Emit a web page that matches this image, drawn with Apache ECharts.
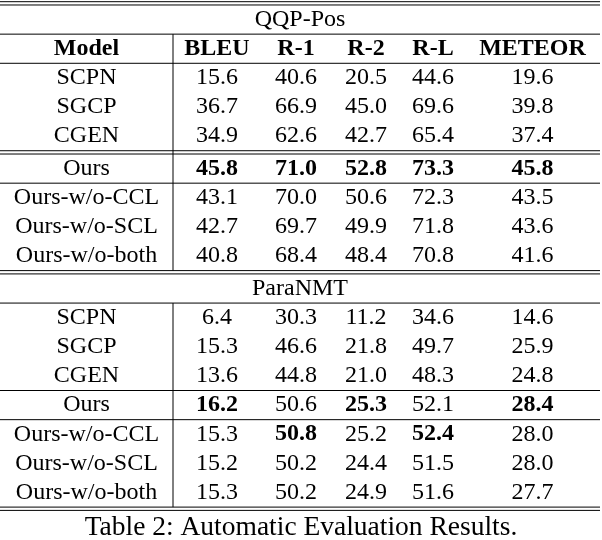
<!DOCTYPE html>
<html><head><meta charset="utf-8">
<script src="https://cdn.jsdelivr.net/npm/echarts@6/dist/echarts.min.js"></script>
<style>html,body{margin:0;padding:0;background:#fff}#c{width:602px;height:540px}</style>
</head><body><div id="c"></div>
<script>
// ---------------- data ----------------
const datasets = ['QQP-Pos', 'ParaNMT'];
const modelHeader = 'Model';
const models = ['SCPN', 'SGCP', 'CGEN', 'Ours', 'Ours-w/o-CCL', 'Ours-w/o-SCL', 'Ours-w/o-both'];
const metrics = ['BLEU', 'R-1', 'R-2', 'R-L', 'METEOR'];

const qqpBLEU   = [15.6, 36.7, 34.9, 45.8, 43.1, 42.7, 40.8];
const qqpR1     = [40.6, 66.9, 62.6, 71.0, 70.0, 69.7, 68.4];
const qqpR2     = [20.5, 45.0, 42.7, 52.8, 50.6, 49.9, 48.4];
const qqpRL     = [44.6, 69.6, 65.4, 73.3, 72.3, 71.8, 70.8];
const qqpMETEOR = [19.6, 39.8, 37.4, 45.8, 43.5, 43.6, 41.6];

const paraBLEU   = [6.4, 15.3, 13.6, 16.2, 15.3, 15.2, 15.3];
const paraR1     = [30.3, 46.6, 44.8, 50.6, 50.8, 50.2, 50.2];
const paraR2     = [11.2, 21.8, 21.0, 25.3, 25.2, 24.4, 24.9];
const paraRL     = [34.6, 49.7, 48.3, 52.1, 52.4, 51.5, 51.6];
const paraMETEOR = [14.6, 25.9, 24.8, 28.4, 28.0, 28.0, 27.7];

const caption = 'Table 2: Automatic Evaluation Results.';

// ---------------- layout / style ----------------
const FONT = '"Liberation Serif", "Times New Roman", serif';
const FS = 24;
const colWidths = [173, 88, 70, 70, 64, 135];
const GAP = 0.113;            // gap of a double rule, in row units
const nBase = 3;              // number of baseline rows

const bounds = [0];
colWidths.forEach(w => bounds.push(bounds[bounds.length - 1] + w));
const colCenter = i => (bounds[i] + bounds[i + 1]) / 2;
const tableW = bounds[bounds.length - 1];

const tables = [
  { name: datasets[0], header: true,  sep: 'double', cols: [qqpBLEU, qqpR1, qqpR2, qqpRL, qqpMETEOR] },
  { name: datasets[1], header: false, sep: 'single', cols: [paraBLEU, paraR1, paraR2, paraRL, paraMETEOR] }
];

const cells = [];   // {x, y, text, bold}
const rules = [];   // [x0, x1, y]
const vrules = [];  // [x, y0, y1]
let y = 0;
function single() { rules.push([0, tableW, y]); }
function dbl() { rules.push([0, tableW, y]); y += GAP; rules.push([0, tableW, y]); }

dbl();
tables.forEach((t, ti) => {
  if (ti > 0) dbl();
  cells.push({ x: tableW / 2, y: y + 0.5, text: t.name, bold: false });
  y += 1; single();
  const vTop = y;
  if (t.header) {
    cells.push({ x: colCenter(0), y: y + 0.5, text: modelHeader, bold: true });
    metrics.forEach((m, mi) => cells.push({ x: colCenter(mi + 1), y: y + 0.5, text: m, bold: true }));
    y += 1; single();
  }
  const best = t.cols.map(c => Math.max(...c));
  models.forEach((m, ri) => {
    if (ri === nBase) { if (t.sep === 'double') dbl(); else single(); }
    if (ri === nBase + 1) single();
    cells.push({ x: colCenter(0), y: y + 0.5, text: m, bold: false });
    t.cols.forEach((c, ci) => cells.push({
      x: colCenter(ci + 1), y: y + 0.5, text: c[ri].toFixed(1), bold: c[ri] === best[ci]
    }));
    y += 1;
  });
  vrules.push([bounds[1], vTop, y]);
});
dbl();
const totalH = y;

const chart = echarts.init(document.getElementById('c'), null, { renderer: 'canvas' });
chart.setOption({
  animation: false,
  backgroundColor: '#fff',
  title: {
    text: caption, left: 'center', top: 514, padding: 0,
    textStyle: { fontFamily: FONT, fontSize: 27.5, fontWeight: 'normal', color: '#000' }
  },
  grid: { left: 0, top: 1.7, width: tableW, height: 508.7 },
  xAxis: { type: 'value', min: 0, max: tableW, show: false },
  yAxis: { type: 'value', min: 0, max: totalH, inverse: true, show: false },
  series: [
    {
      type: 'custom', clip: false,
      encode: { x: [0, 1], y: 2 },
      data: rules,
      renderItem: (params, api) => {
        const p0 = api.coord([api.value(0), api.value(2)]);
        const p1 = api.coord([api.value(1), api.value(2)]);
        return { type: 'line', shape: { x1: p0[0], y1: p0[1], x2: p1[0], y2: p1[1] },
                 style: { stroke: '#000', lineWidth: 1 } };
      }
    },
    {
      type: 'custom', clip: false,
      encode: { x: 0, y: [1, 2] },
      data: vrules,
      renderItem: (params, api) => {
        const p0 = api.coord([api.value(0), api.value(1)]);
        const p1 = api.coord([api.value(0), api.value(2)]);
        return { type: 'line', shape: { x1: p0[0], y1: p0[1], x2: p1[0], y2: p1[1] },
                 style: { stroke: '#000', lineWidth: 1 } };
      }
    },
    {
      type: 'custom', clip: false,
      encode: { x: 0, y: 1 },
      data: cells.map(c => [c.x, c.y]),
      renderItem: (params, api) => {
        const c = cells[params.dataIndex];
        const p = api.coord([api.value(0), api.value(1)]);
        return { type: 'text', x: p[0], y: p[1],
                 style: { text: c.text, fill: '#000', fontFamily: FONT, fontSize: FS,
                          fontWeight: c.bold ? 'bold' : 'normal', align: 'center', verticalAlign: 'middle' } };
      }
    }
  ]
});
</script>
</body></html>
